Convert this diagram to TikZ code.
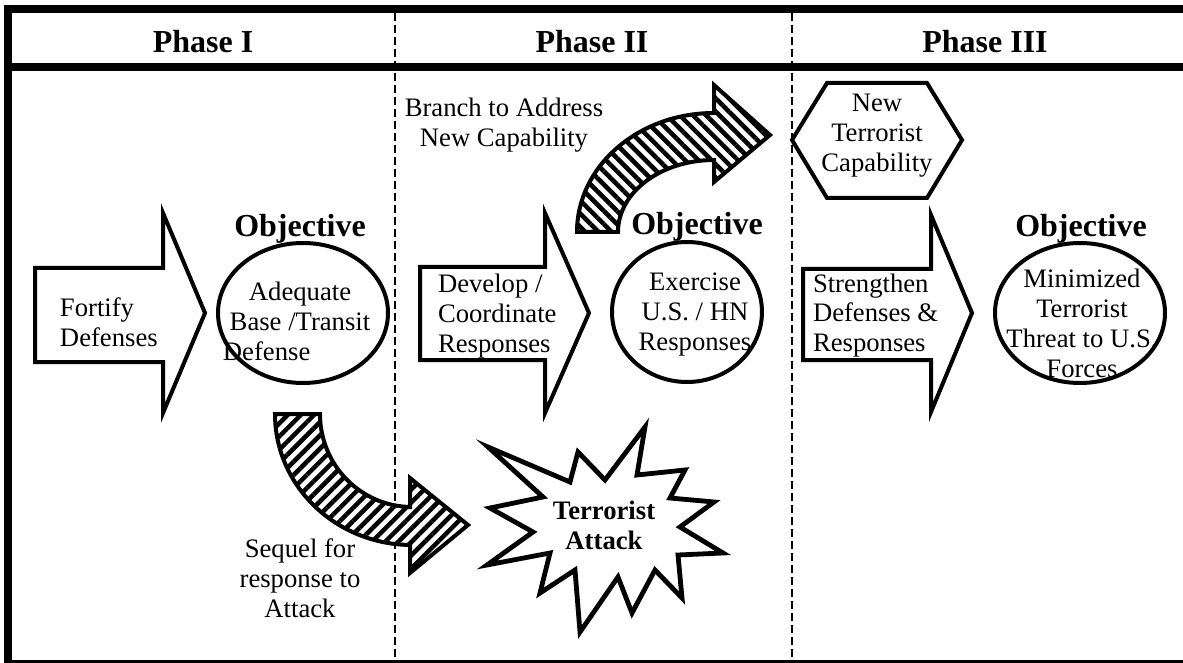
\documentclass[tikz,border=0pt]{standalone}
\usepackage{fontspec}
\setmainfont{Liberation Serif}
\usetikzlibrary{shapes.geometric,patterns.meta}
\begin{document}
\begin{tikzpicture}[x=0.75pt,y=-0.75pt,
  bodytext/.style={font=\fontsize{20}{22.5}\selectfont, inner sep=0pt, outer sep=0pt},
  boldtext/.style={font=\fontsize{20}{22.5}\selectfont\bfseries, inner sep=0pt, outer sep=0pt},
  titletext/.style={font=\fontsize{24}{27}\selectfont\bfseries, inner sep=0pt, outer sep=0pt},
  frameline/.style={line width=6pt},
  divider/.style={line width=1.5pt, dash pattern=on 6pt off 3pt},
  outline/.style={draw, line width=3pt, fill=white, line join=miter},
  goal/.style={draw, ellipse, line width=3pt, fill=white, inner sep=0pt},
  band/.style={draw, line width=3pt, line join=miter, preaction={fill=white}},
  burst/.style={draw, line width=3.6pt, fill=white, line join=miter, miter limit=20}
]
\useasboundingbox (0,0) rectangle (1183,663);
\clip (0,0) rectangle (1183,663);

% frame
\draw[frameline] (8,9) -- (1200,9);
\draw[frameline] (8,5) -- (8,668);
\draw[frameline] (4,67) -- (1200,67);
\draw[frameline] (4,664) -- (1200,664);
\draw[divider] (395,13) -- (395,660);
\draw[divider] (792,13) -- (792,660);

% headers
\node[titletext, anchor=base] (h1) at (203,53) {Phase I};
\node[titletext, anchor=base] (h2) at (592,53) {Phase II};
\node[titletext, anchor=base] (h3) at (985,53) {Phase III};

% ---------- Phase I ----------
\draw[outline] (35,268) -- (163,268) -- (163,213) -- (205,313) -- (163,413) -- (163,362) -- (35,362) -- cycle;
\node[bodytext, anchor=north west, align=left] (fortify) at (60,295) {\strut Fortify\\Defenses\strut};

\node[goal, minimum width=127.5pt, minimum height=105pt] (goal1) at (303,313) {};
\node[bodytext, anchor=north, align=center] (goal1txt) at (300,279) {\strut Adequate\\Base /Transit\\Defense\hspace*{50pt}\strut};
\node[titletext, anchor=base] (obj1) at (300,237) {Objective};

% sequel curved arrow
\draw[band, pattern={Lines[angle=45,distance=7pt,line width=3.4pt]}]
  (275,414) .. controls (275,486.4) and (336.3,545) .. (412,545)
  -- (410,545) -- (410,573) -- (468,525) -- (410,478) -- (410,507) -- (412,507)
  .. controls (361.2,507) and (320,465.4) .. (320,414) -- cycle;
\node[bodytext, anchor=north, align=center] (sequel) at (300,536) {\strut Sequel for\\response to\\Attack\strut};

% ---------- Phase II ----------
\node[bodytext, anchor=north, align=center] (branch) at (504,96) {\strut Branch to Address\\New Capability\strut};
\draw[band, pattern={Lines[angle=-45,distance=7pt,line width=3.4pt]}]
  (577,232) .. controls (577,166.3) and (638.3,113) .. (714,113)
  -- (714,85) -- (770,135) -- (714,182) -- (714,160)
  .. controls (661,160) and (618,192.2) .. (618,232) -- cycle;

\draw[outline] (420,267) -- (545,267) -- (545,213) -- (589,313) -- (545,413) -- (545,360) -- (420,360) -- cycle;
\node[bodytext, anchor=north west, align=left] (develop) at (438,272) {\strut Develop /\\Coordinate\\Responses\strut};

\node[goal, minimum width=112.5pt, minimum height=105pt] (goal2) at (687,312) {};
\node[bodytext, anchor=north, align=center] (goal2txt) at (695,269) {\strut Exercise\\U.S. / HN\\Responses\strut};
\node[titletext, anchor=base] (obj2) at (697,235) {Objective};

\draw[burst] (645,427) -- (637,475) -- (685,470) -- (670,498) -- (714,502) -- (680,527)
  -- (723,553) -- (678,555) -- (682,598) -- (655,570) -- (632,613) -- (618,577)
  -- (580,632) -- (575,570) -- (540,593) -- (550,553) -- (487,565) -- (533,532)
  -- (490,508) -- (543,497) -- (488,447) -- (570,482) -- (578,452) -- (605,480) -- cycle;
\node[boldtext, anchor=north, align=center] (attack) at (604,498) {\strut Terrorist\\Attack\strut};

% ---------- Phase III ----------
\draw[outline] (792,140) -- (827,83) -- (927,83) -- (962,140) -- (927,198) -- (827,198) -- cycle;
\node[bodytext, anchor=north, align=center] (newcap) at (877,91) {\strut New\\Terrorist\\Capability\strut};

\draw[outline] (803,269) -- (931,269) -- (931,215) -- (972,313) -- (931,412) -- (931,360) -- (803,360) -- cycle;
\node[bodytext, anchor=north west, align=left] (strengthen) at (813,271) {\strut Strengthen\\Defenses \&\\Responses\strut};

\node[goal, minimum width=127.5pt, minimum height=105pt] (goal3) at (1080,313) {};
\node[bodytext, anchor=north, align=center] (goal3txt) at (1082,267) {\strut Minimized\\Terrorist\\Threat to U.S.\\Forces\strut};
\node[titletext, anchor=base] (obj3) at (1081,237) {Objective};
\end{tikzpicture}
\end{document}
